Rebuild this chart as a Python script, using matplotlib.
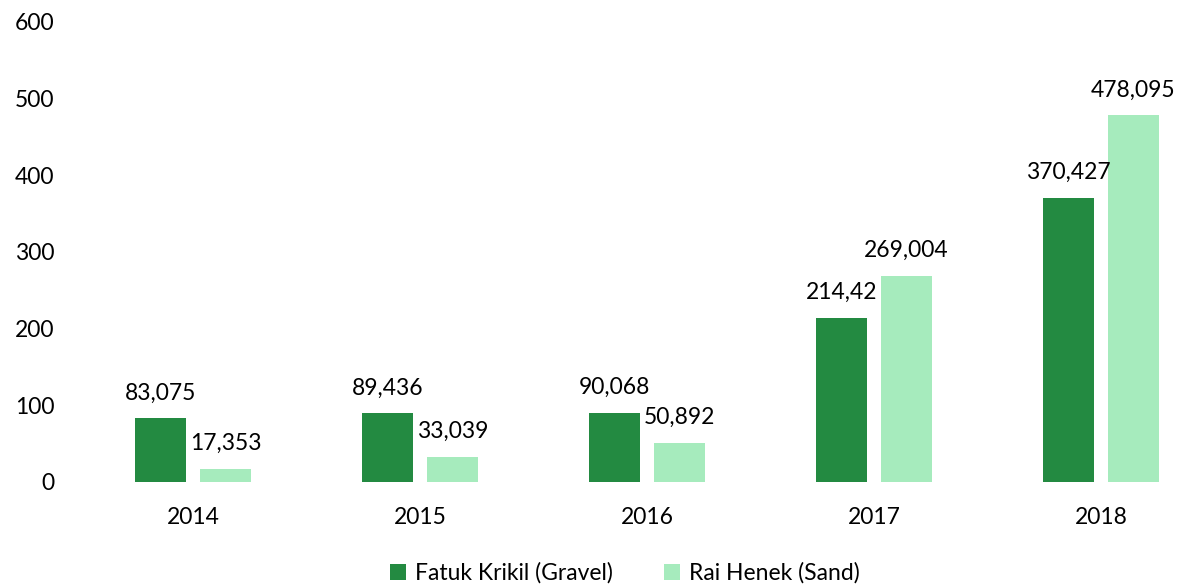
import matplotlib
matplotlib.use("Agg")
import matplotlib.pyplot as plt
import numpy as np

years = ["2014", "2015", "2016", "2017", "2018"]
gravel = [83.075, 89.436, 90.068, 214.42, 370.427]
sand = [17.353, 33.039, 50.892, 269.004, 478.095]
gravel_labels = ["83,075", "89,436", "90,068", "214,42", "370,427"]
sand_labels = ["17,353", "33,039", "50,892", "269,004", "478,095"]
series_names = ["Fatuk Krikil (Gravel)", "Rai Henek (Sand)"]
yticks = [0, 100, 200, 300, 400, 500, 600]

dark = "#238A41"
light = "#A6EBBD"

plt.rcParams['font.family'] = ['Lato', 'DejaVu Sans']

W, H = 1191, 586
fig = plt.figure(figsize=(W / 100, H / 100), dpi=100)
ax_left = 79.5 / W
ax_bottom = (H - 482) / H
ax_height = 460 / H
ax = fig.add_axes([ax_left, ax_bottom, 1 - ax_left, ax_height])

x = np.arange(len(years))
bw = 0.2247
off = 0.143
b1 = ax.bar(x - off, gravel, bw, color=dark, label=series_names[0])
b2 = ax.bar(x + off, sand, bw, color=light, label=series_names[1])

fs = 16.5
for xi, v, lab in zip(x - off, gravel, gravel_labels):
    ax.annotate(lab, (xi, v), xytext=(0, 13.5), textcoords="offset points",
                ha="center", va="baseline", fontsize=fs, color="#000000")
for xi, v, lab in zip(x + off, sand, sand_labels):
    ax.annotate(lab, (xi, v), xytext=(0, 13.5), textcoords="offset points",
                ha="center", va="baseline", fontsize=fs, color="#000000")

ax.set_xlim(-0.5, 4.5 - (1214.5 - W) / 227)
ax.set_ylim(0, 600)
ax.set_yticks(yticks)
ax.set_yticklabels([str(t) for t in yticks])
ax.set_xticks(x)
ax.set_xticklabels(years)
ax.tick_params(axis="both", length=0, labelsize=fs, colors="#000000")
ax.tick_params(axis="y", pad=18)
ax.tick_params(axis="x", pad=18)
for s in ax.spines.values():
    s.set_visible(False)

fig.legend(handles=[b1, b2], labels=series_names, loc="center",
           bbox_to_anchor=(625 / W, 1 - 573 / H), ncol=2, frameon=False,
           fontsize=fs, handlelength=0.7, handleheight=0.7,
           handletextpad=0.4, columnspacing=2.2)

fig.savefig("out.png", dpi=100)
